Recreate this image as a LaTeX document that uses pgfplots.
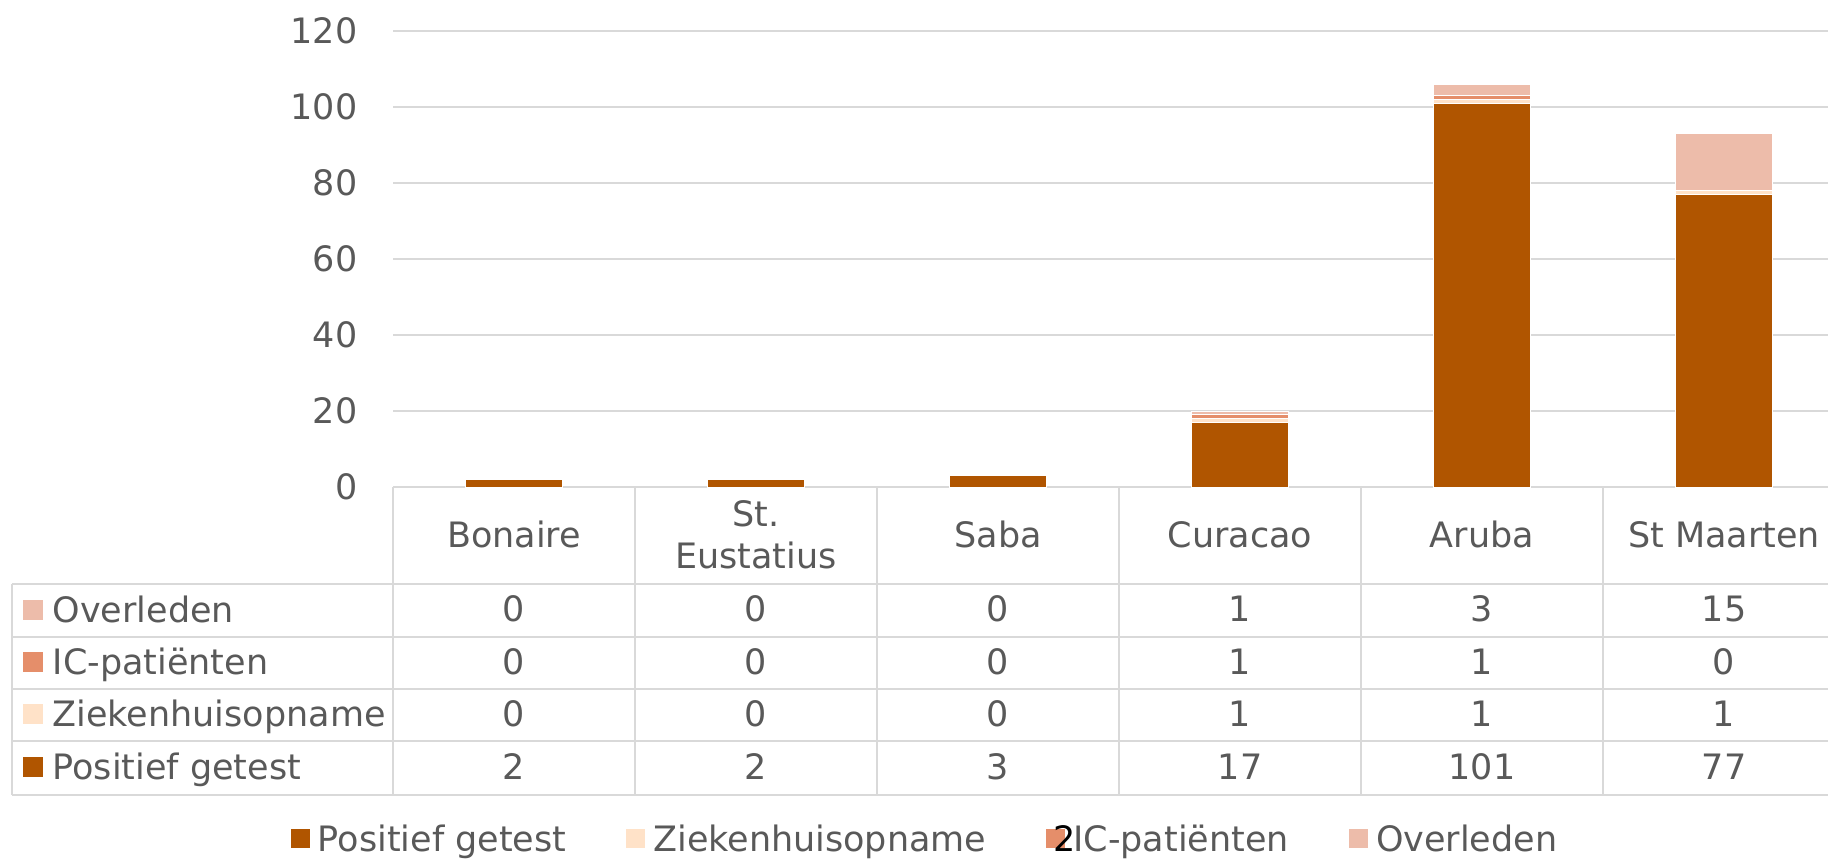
\documentclass[border=0pt]{standalone}
\usepackage{pgfplots}
\pgfplotsset{compat=1.18}
\usepackage{pgfplotstable}
\usepackage{fontspec}
\setmainfont{DejaVu Sans}
\definecolor{cpos}{HTML}{B05500}
\definecolor{czh}{HTML}{FFE2C8}
\definecolor{cic}{HTML}{E58E6A}
\definecolor{cov}{HTML}{EDBCAA}
\definecolor{cgrid}{HTML}{D9D9D9}
\definecolor{ctxt}{HTML}{595959}

\pgfplotstableread{
x pos zh ic ov
0 2 0 0 0
1 2 0 0 0
2 3 0 0 0
3 17 1 1 1
4 101 1 1 3
5 77 1 0 15
}\data

\begin{document}
\begin{tikzpicture}[font=\fontsize{9.95}{12}\selectfont]
\begin{axis}[
  at={(3.93cm,-4.87cm)}, anchor=south west,
  scale only axis, width=14.52cm, height=4.56cm,
  xmin=-0.5, xmax=5.5, ymin=0, ymax=120,
  ytick={0,20,...,120}, xtick=\empty,
  ymajorgrids, major grid style={cgrid, line width=0.6pt},
  axis line style={draw=none}, major tick length=0pt,
  yticklabel style={text=ctxt, inner sep=0pt, xshift=-0.35cm},
  /pgf/number format/assume math mode=true,
  ybar stacked, bar width=0.97cm,
  legend columns=4,
  legend style={at={(0.3678,-0.775)}, anchor=center, draw=none, fill=none, text=ctxt,
    /tikz/every even column/.append style={column sep=0.52cm}},
  legend image code/.code={\fill[#1] (0cm,-0.085cm) rectangle (0.2cm,0.115cm);},
]
\addplot[fill=cpos, draw=white, line width=0.3pt] table[x=x,y=pos]{\data};
\addlegendentry{Positief getest}
\addplot[fill=czh, draw=white, line width=0.3pt] table[x=x,y=zh]{\data};
\addlegendentry{Ziekenhuisopname}
\addplot[fill=cic, draw=white, line width=0.3pt] table[x=x,y=ic]{\data};
\addlegendentry{IC-patiënten}
\addplot[fill=cov, draw=white, line width=0.3pt] table[x=x,y=ov]{\data};
\addlegendentry{Overleden}
\end{axis}

\begin{axis}[
  at={(3.93cm,-4.87cm)}, anchor=north west,
  scale only axis, width=14.52cm, height=3.09cm,
  xmin=-0.5, xmax=5.5, ymin=0, ymax=309, y dir=reverse,
  hide axis, clip=false,
  nodes near coords, point meta=explicit symbolic,
  every node near coord/.append style={anchor=center, text=ctxt, inner sep=0pt},
]
% grid of the data table
\draw[cgrid, line width=0.6pt] (axis cs:-0.5,0) -- (axis cs:-0.5,308);
\draw[cgrid, line width=0.6pt] (axis cs:0.5,0) -- (axis cs:0.5,308);
\draw[cgrid, line width=0.6pt] (axis cs:1.5,0) -- (axis cs:1.5,308);
\draw[cgrid, line width=0.6pt] (axis cs:2.5,0) -- (axis cs:2.5,308);
\draw[cgrid, line width=0.6pt] (axis cs:3.5,0) -- (axis cs:3.5,308);
\draw[cgrid, line width=0.6pt] (axis cs:4.5,0) -- (axis cs:4.5,308);
\draw[cgrid, line width=0.6pt] (axis cs:5.5,0) -- (axis cs:5.5,308);
\draw[cgrid, line width=0.6pt] (axis cs:-2.074,97) -- (axis cs:-2.074,308);
\draw[cgrid, line width=0.6pt] (axis cs:-2.074,97) -- (axis cs:5.5,97);
\draw[cgrid, line width=0.6pt] (axis cs:-2.074,150) -- (axis cs:5.5,150);
\draw[cgrid, line width=0.6pt] (axis cs:-2.074,202) -- (axis cs:5.5,202);
\draw[cgrid, line width=0.6pt] (axis cs:-2.074,254) -- (axis cs:5.5,254);
\draw[cgrid, line width=0.6pt] (axis cs:-2.074,308) -- (axis cs:5.5,308);
% header
\node[anchor=center, align=center, text=ctxt] at (axis cs:0,47.5) {Bonaire};
\node[anchor=center, align=center, text=ctxt] at (axis cs:1,47.5) {St.\\Eustatius};
\node[anchor=center, align=center, text=ctxt] at (axis cs:2,47.5) {Saba};
\node[anchor=center, align=center, text=ctxt] at (axis cs:3,47.5) {Curacao};
\node[anchor=center, align=center, text=ctxt] at (axis cs:4,47.5) {Aruba};
\node[anchor=center, align=center, text=ctxt] at (axis cs:5,47.5) {St Maarten};
% row keys
\fill[cov] (axis cs:-2.029,112.5) rectangle (axis cs:-1.946,132.5);
\fill[cic] (axis cs:-2.029,165) rectangle (axis cs:-1.946,185);
\fill[czh] (axis cs:-2.029,217) rectangle (axis cs:-1.946,237);
\fill[cpos] (axis cs:-2.029,270) rectangle (axis cs:-1.946,290);
\node[anchor=base west, inner sep=0pt, text=ctxt] at (axis cs:-1.909,135) {Overleden};
\node[anchor=base west, inner sep=0pt, text=ctxt] at (axis cs:-1.909,187.5) {IC-patiënten};
\node[anchor=base west, inner sep=0pt, text=ctxt] at (axis cs:-1.909,239.5) {Ziekenhuisopname};
\node[anchor=base west, inner sep=0pt, text=ctxt] at (axis cs:-1.909,292.5) {Positief getest};
% row values
\addplot[only marks, mark=none] table[x=x, y expr=122, meta=ov]{\data};
\addplot[only marks, mark=none] table[x=x, y expr=174.5, meta=ic]{\data};
\addplot[only marks, mark=none] table[x=x, y expr=226.5, meta=zh]{\data};
\addplot[only marks, mark=none] table[x=x, y expr=279.5, meta=pos]{\data};
% stray label in the legend of the reference
\node[anchor=base, inner sep=0pt, text=black] at (axis cs:2.275,364.5) {2};
\end{axis}
\pgfresetboundingbox
\useasboundingbox (0,0) rectangle (18.28,-8.59);
\end{tikzpicture}
\end{document}
